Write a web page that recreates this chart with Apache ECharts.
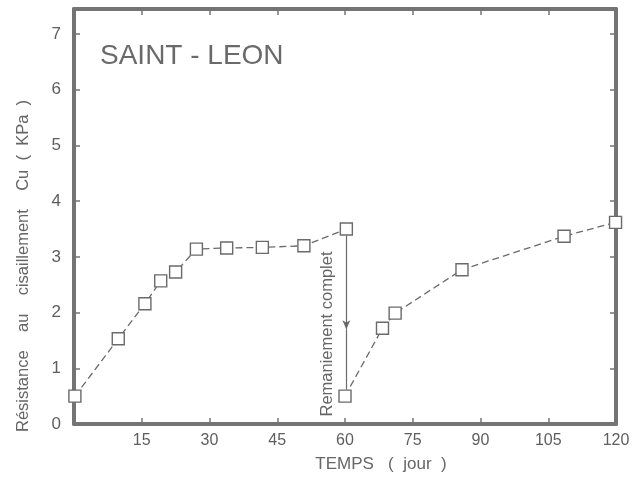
<!DOCTYPE html>
<html>
<head>
<meta charset="utf-8">
<script src="https://cdn.jsdelivr.net/npm/echarts@6/dist/echarts.min.js"></script>
<style>
  html, body { margin: 0; padding: 0; background: #fff; }
  #chart { width: 644px; height: 477px; }
</style>
</head>
<body>
<div id="chart"></div>
<script>
// temps (jour) / Cu (KPa)
var avantX = [0.2, 9.8, 15.7, 19.2, 22.5, 27.1, 33.8, 41.7, 50.9, 60.3];
var avantY = [0.50, 1.53, 2.16, 2.57, 2.73, 3.14, 3.16, 3.17, 3.20, 3.50];
var apresX = [60.0, 68.3, 71.1, 85.9, 108.5, 119.9];
var apresY = [0.50, 1.72, 1.99, 2.77, 3.37, 3.62];
// fleche "Remaniement complet" : debut, pointe, fin
var flecheX = 60.3;
var flecheY = [3.38, 1.70, 0.62];

var xTicks = [15, 30, 45, 60, 75, 90, 105, 120];

var gris = '#6a6a6a';
var cadre = '#747474';

function paires(xs, ys) {
    return xs.map(function (x, i) { return [x, ys[i]]; });
}

var chart = echarts.init(document.getElementById('chart'));

var axeBase = {
    axisLine: { show: true, onZero: false, lineStyle: { color: cadre, width: 4 } },
    axisTick: { show: true, inside: true, length: 6, lineStyle: { color: cadre, width: 1.5 } },
    splitLine: { show: false }
};

var serieBase = {
    type: 'line',
    symbol: 'rect',
    symbolSize: 12,
    showAllSymbol: true,
    lineStyle: { color: gris, width: 1.3, type: [7, 4] },
    itemStyle: { color: '#fff', borderColor: gris, borderWidth: 1.4 },
    z: 5,
    animation: false
};

chart.setOption({
    backgroundColor: '#fff',
    animation: false,
    grid: { left: 74, right: 28, top: 9, bottom: 53 },
    xAxis: [
        Object.assign({}, axeBase, {
            type: 'value', position: 'bottom', min: 0, max: 120, interval: 15,
            axisLabel: {
                color: '#5e5e5e', fontSize: 16, fontFamily: 'Liberation Sans', margin: 9,
                formatter: function (v) { return xTicks.indexOf(v) >= 0 ? String(v) : ''; }
            }
        }),
        Object.assign({}, axeBase, {
            type: 'value', position: 'top', min: 0, max: 120, interval: 15,
            axisLabel: { show: false }
        })
    ],
    yAxis: [
        Object.assign({}, axeBase, {
            type: 'value', position: 'left', min: 0, max: 7.45, interval: 1,
            axisLabel: {
                color: '#5e5e5e', fontSize: 17, fontFamily: 'Liberation Sans', margin: 13,
                formatter: function (v) { return Number.isInteger(v) ? String(v) : ''; }
            }
        }),
        Object.assign({}, axeBase, {
            type: 'value', position: 'right', min: 0, max: 7.45, interval: 1,
            axisLabel: { show: false }
        })
    ],
    series: [
        Object.assign({}, serieBase, { name: 'avant', data: paires(avantX, avantY) }),
        Object.assign({}, serieBase, {
            name: 'apres',
            data: paires(apresX, apresY),
            markLine: {
                silent: true,
                symbol: ['none', 'none'],
                label: { show: false },
                lineStyle: { color: gris, width: 1.2, type: 'solid' },
                data: [
                    [{ coord: [flecheX, flecheY[0]] },
                     { coord: [flecheX, flecheY[1]], symbol: 'arrow', symbolSize: [6, 9] }],
                    [{ coord: [flecheX, flecheY[1]] }, { coord: [flecheX, flecheY[2]] }]
                ]
            }
        })
    ],
    graphic: [
        {
            type: 'text', left: 100, top: 42,
            style: { text: 'SAINT - LEON', fill: '#6a6a6a', fontSize: 28, fontFamily: 'Liberation Sans' }
        },
        {
            type: 'text', x: 327, y: 334, rotation: Math.PI / 2,
            style: {
                text: 'Remaniement complet', fill: '#666', fontSize: 16.5,
                fontFamily: 'Liberation Sans', align: 'center', verticalAlign: 'middle'
            }
        },
        {
            type: 'text', x: 23, y: 266, rotation: Math.PI / 2,
            style: {
                text: 'Résistance    au    cisaillement    Cu  (  KPa  )', fill: '#666', fontSize: 16.5,
                fontFamily: 'Liberation Sans', align: 'center', verticalAlign: 'middle'
            }
        },
        {
            type: 'text', x: 381, y: 464,
            style: {
                text: 'TEMPS   (  jour  )', fill: '#666', fontSize: 17,
                fontFamily: 'Liberation Sans', align: 'center', verticalAlign: 'middle'
            }
        }
    ]
});
</script>
</body>
</html>
